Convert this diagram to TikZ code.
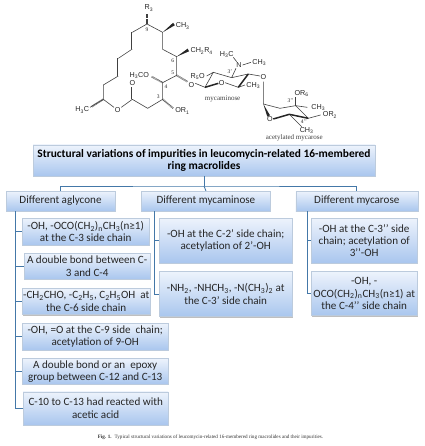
\documentclass[tikz,border=0pt]{standalone}
\usepackage{fontspec}
\setmainfont{Carlito}
\newfontfamily\chemsans{Liberation Sans}
\newfontfamily\chemserif{Liberation Serif}
\usepackage{tikz}
\usetikzlibrary{positioning,calc,shadows}
\definecolor{boxtop}{HTML}{EDF3FC}
\definecolor{boxbot}{HTML}{A9C6EE}
\definecolor{boxline}{HTML}{BCCBDD}
\definecolor{linec}{HTML}{4478A8}
\newcommand{\subs}[1]{\textsubscript{#1}}
\newcommand{\wdg}[2]{\fill[bondc] #1 -- ($#2!1.5pt!90:#1$) -- ($#2!1.5pt!-90:#1$) -- cycle;}

\begin{document}
\begin{tikzpicture}[x=1pt,y=-1pt,
  box/.style={draw=boxline,top color=boxtop,bottom color=boxbot,drop shadow={shadow xshift=.6pt,shadow yshift=-1pt,fill=black!50},inner sep=0pt,align=center,font=\fontsize{11.1}{12.4}\selectfont,text=black!85},
  ln/.style={draw=linec,line width=.9pt},
  bond/.style={draw=black!75,line width=.6pt},
  bondc/.style={fill=black!85},
  dbl/.style={draw=black!75,line width=1.9pt,postaction={draw=white,line width=.7pt}},
  hash/.style={draw=black!75,line width=1.7pt,dash pattern=on .5pt off .7pt},
  thk/.style={draw=black!85,line width=1.5pt},
  chem/.style={font=\chemsans\fontsize{7.2}{9}\selectfont,inner sep=0pt,text=black!85},
  num/.style={font=\chemserif\fontsize{5.5}{6}\selectfont,inner sep=0pt,text=black!85},
  lab/.style={font=\chemserif\fontsize{7}{8}\selectfont,inner sep=0pt,text=black!75}]
\useasboundingbox (0,0) rectangle (424,446);

% top and first row
\node[box,minimum width=342pt,minimum height=31pt,font=\bfseries\fontsize{11.4}{12.6}\selectfont,text=black] (title) at (204,160.5) {Structural variations of impurities in leucomycin-related 16-membered\\ring macrolides};
\node[box,minimum width=109pt,minimum height=20pt] (ag) at (60.5,201) {Different aglycone};
\node[box,minimum width=129pt,minimum height=20pt,right=26pt of ag] (my) {Different mycaminose};
\node[box,minimum width=122pt,minimum height=20pt,right=25pt of my] (mc) {Different mycarose};

% left column
\node[box,minimum width=127pt,minimum height=27pt,anchor=north west] (a1) at (22,218) {-OH, -OCO(CH\subs{2})\subs{n}CH\subs{3}(n≥1)\\at the C-3 side chain};
\node[box,minimum width=126pt,minimum height=26pt,anchor=north west] (a2) at (24,253) {A double bond between C-\\3 and C-4};
\node[box,minimum width=128pt,minimum height=26pt,below=9pt of a2.south west,anchor=north west,xshift=-2pt] (a3) {-CH\subs{2}CHO, -C\subs{2}H\subs{5}, C\subs{2}H\subs{5}OH~ at\\the C-6 side chain};
\node[box,minimum width=146pt,minimum height=27pt,below=8pt of a3.south west,anchor=north west] (a4) {-OH, =O at the C-9 side~ chain;\\acetylation of 9-OH};
\node[box,minimum width=146pt,minimum height=26pt,below=8pt of a4.south west,anchor=north west] (a5) {A double bond or an~ epoxy\\group between C-12 and C-13};
\node[box,minimum width=145pt,minimum height=33pt,below=7pt of a5.south west,anchor=north west,xshift=1pt] (a6) {C-10 to C-13 had reacted with\\acetic acid};

% middle column
\node[box,minimum width=133pt,minimum height=45pt,anchor=north west] (m1) at (159,218) {-OH at the C-2’ side chain;\\acetylation of 2’-OH};
\node[box,minimum width=133pt,minimum height=45pt,below=8pt of m1.south west,anchor=north west] (m2) {-NH\subs{2}, -NHCH\subs{3}, -N(CH\subs{3})\subs{2} at\\the C-3’ side chain};

% right column
\node[box,minimum width=106pt,minimum height=45pt,anchor=north west] (c1) at (311,218) {-OH at the C-3’’ side\\chain; acetylation of\\3’’-OH};
\node[box,minimum width=106pt,minimum height=44pt,below=8pt of c1.south west,anchor=north west] (c2) {-OH, -\\OCO(CH\subs{2})\subs{n}CH\subs{3}(n≥1) at\\the C-4’’ side chain};

% connectors
\coordinate (bus) at (204,186);
\coordinate (trA) at ([xshift=10pt]ag.south west);
\coordinate (trM) at ([xshift=13pt]my.south west);
\coordinate (trC) at ([xshift=12pt]mc.south west);
\draw[ln] (title.south) -- (bus);
\draw[ln] (ag.north) |- (bus) -| (mc.north);
\draw[ln] (bus) -- (my.north);
\draw[ln] (trA) |- (a1.west);
\draw[ln] (trA) |- (a2.west);
\draw[ln] (trA) |- (a3.west);
\draw[ln] (trA) |- (a4.west);
\draw[ln] (trA) |- (a5.west);
\draw[ln] (trA) |- (a6.west);
\draw[ln] (trM) |- (m1.west);
\draw[ln] (trM) |- (m2.west);
\draw[ln] (trC) |- (c1.west);
\draw[ln] (trC) |- (c2.west);

% structure, in 3x zoom units
\begin{scope}[shift={(50,0)},x=.3333pt,y=-.3333pt]
\draw[bond] (120,322) -- (160,298) -- (160,255) -- (205,228);
\draw[dbl] (205,228) -- (205,175);
\draw[bond] (205,175) -- (247,147);
\draw[dbl] (247,147) -- (247,97);
\draw[bond] (247,97) -- (291,72) -- (338,97) -- (338,148) -- (380,170) -- (380,226) -- (338,248) -- (338,298) -- (293,325) -- (247,298) -- (214,322);
\draw[bond] (160,298) -- (192,322);
\draw[dbl] (247,298) -- (247,262);
\draw[hash] (291,72) -- (291,42);
\draw[hash] (160,298) -- (125,320);
\draw[hash] (338,298) -- (370,325);
\draw[hash] (338,248) -- (305,230);
\draw[hash] (380,226) -- (412,245);
\wdg{(338,97)}{(372,72)}
\wdg{(380,170)}{(415,150)}
\node[chem] (r3) at (297,24) {R\subs{3}};
\node[chem] (me9) at (398,78) {CH\subs{3}};
\node[chem] (r4) at (455,153) {CH\subs{2}R\subs{4}};
\node[chem] (oac) at (268,226) {H\subs{3}CO};
\node[chem] (ocar) at (247,250) {O};
\node[chem] (olac) at (203,330) {O};
\node[chem] (mel) at (97,330) {H\subs{3}C};
\node[chem] (or1) at (397,333) {OR\subs{1}};
\node[num] (n9) at (291,90) {9};
\node[num] (n6) at (368,183) {6};
\node[num] (n5) at (368,217) {5};
\node[num] (n4) at (348,260) {4};
\node[num] (n3) at (325,290) {3};
% mycaminose
\draw[bond] (436,250) -- (465,262);
\draw[bond] (465,262) -- (490,217) -- (545,233) -- (595,222) -- (630,228);
\draw[bond] (470,228) -- (490,217);
\draw[bond] (525,248) -- (565,262) -- (585,255);
\draw[bond] (545,233) -- (558,205);
\draw[bond] (560,185) -- (550,172);
\draw[bond] (578,195) -- (603,187);
\draw[thk] (465,262) -- (505,250);
\draw[thk] (565,262) -- (595,222);
\node[chem] (r5) at (443,230) {R\subs{5}O};
\node[chem] (oa) at (424,254) {O};
\node[chem] (ob) at (515,250) {O};
\node[chem] (nn) at (567,195) {N};
\node[chem] (nl) at (530,163) {H\subs{3}C};
\node[chem] (nr) at (628,187) {CH\subs{3}};
\node[chem] (mb) at (610,256) {CH\subs{3}};
\node[chem] (oc) at (640,232) {O};
\node[num] (n3p) at (540,215) {3’};
\node[lab] (lmy) at (518,298) {mycaminose};
% mycarose
\draw[bond] (640,245) -- (640,312) -- (690,325) -- (737,317) -- (775,355);
\draw[bond] (737,317) -- (737,292);
\draw[bond] (737,317) -- (772,322);
\draw[bond] (775,355) -- (812,345);
\draw[bond] (718,343) -- (755,380);
\wdg{(640,312)}{(656,348)}
\draw[thk] (670,357) -- (718,343) -- (775,355);
\node[chem] (od) at (660,358) {O};
\node[chem] (or6) at (755,280) {OR\subs{6}};
\node[chem] (mc3) at (805,322) {CH\subs{3}};
\node[chem] (or2) at (840,345) {OR\subs{2}};
\node[chem] (mc4) at (770,392) {CH\subs{3}};
\node[num] (n3pp) at (722,303) {3’’};
\node[num] (n4pp) at (762,365) {4’’};
\node[lab] (lmc) at (733,413) {acetylated mycarose};
\end{scope}

\node[font=\chemserif\fontsize{5.1}{6}\selectfont,inner sep=0pt,text=black!80] (cap) at (210.5,437) {\textbf{Fig. 1.}~ Typical structural variations of leucomycin-related 16-membered ring macrolides and their impurities.};
\end{tikzpicture}
\end{document}
